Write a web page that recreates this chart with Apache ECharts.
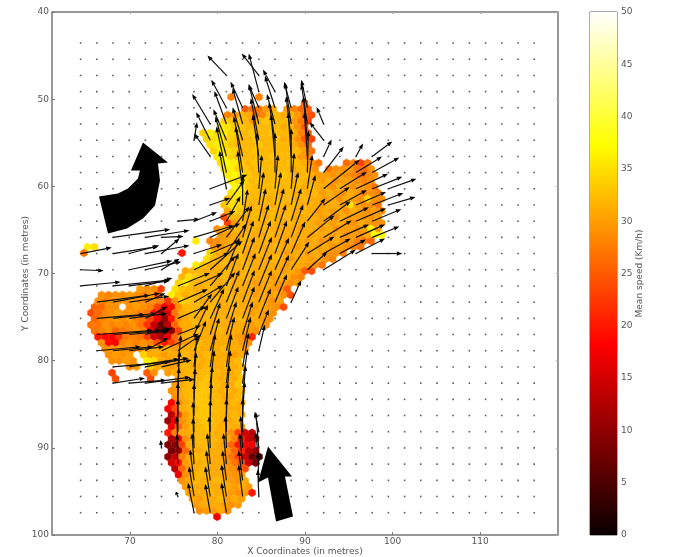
<!DOCTYPE html>
<html><head><meta charset="utf-8">
<style>html,body{margin:0;padding:0;background:#fff}#c{width:700px;height:557px;filter:blur(0.55px)}</style>
<script src="https://cdn.jsdelivr.net/npm/echarts@6/dist/echarts.min.js"></script></head>
<body><div id="c"></div>
<script>
// Axis tick labels
const xTicks = [70, 80, 90, 100, 110];
const yTicks = [40, 50, 60, 70, 80, 90, 100];
const barTicks = [0, 5, 10, 15, 20, 25, 30, 35, 40, 45, 50];

// Quiver sampling grid (metres)
const quiverX = [64.36,66.21,68.06,69.91,71.76,73.61,75.47,77.32,79.17,81.02,82.87,84.72,86.57,88.42,90.27,92.13,93.98,95.83,97.68,99.53,101.38,103.23,105.08,106.93,108.78,110.64,112.49,114.34,116.19];
const quiverY = [43.56,45.42,47.28,49.13,50.99,52.85,54.71,56.57,58.42,60.28,62.14,64.00,65.86,67.71,69.57,71.43,73.29,75.15,77.00,78.86,80.72,82.58,84.44,86.29,88.15,90.01,91.87,93.73,95.58,97.44];
const quiverScale = 0.1146; // metres per vector unit

// Mean speed hex cells: [row, first column, speeds (km/h), 0 = empty cell]
const hexTop = [
[0,21,[28]],[0,25,[28]],[1,31,[26]],
[2,23,[25,27,27,30,31,0,30,28,26,25]],
[3,20,[28,29,32,31,26,28,32,32,31,32,30,26,24]],
[4,20,[34,33,33,32,30,32,33,32,32,32,30,27,23]],
[5,19,[36,35,33,33,32,32,32,32,32,31,32,29,25]],
[6,17,[34,36,35,36,34,33,32,33,32,32,33,32,32,31,28,25]],
[7,17,[34,35,36,34,33,32,32,33,32,32,33,31,32,29,25,23]],
[8,18,[35,36,35,33,32,32,32,33,32,32,32,32,31,29,26]],
[9,18,[34,36,35,34,32,32,33,32,32,32,32,32,32,30,27]],
[10,19,[36,37,34,33,32,32,33,32,33,32,32,32,30,28]],
[11,19,[35,37,36,33,32,33,32,32,32,32,33,32,31,29,27]],
[12,20,[36,36,34,33,32,33,32,32,32,32,31,32,31,29]]
];
const hexWing = [
[11,37,[26,28,23,27]],[12,35,[27,29,29,30,27,26,29]],
[13,20,[36,37,35,33,32,32,32,32,33,32,31,32,31,30,30,29,30,29,28,27,28,29]],
[14,21,[36,35,34,32,33,32,32,32,32,31,32,31,31,30,31,29,30,30,29,28,29]],
[15,21,[37,36,33,32,32,32,33,32,32,32,31,32,31,31,29,31,30,29,30,29,27]],
[16,21,[35,36,34,32,32,32,32,31,32,31,32,31,32,30,31,30,29,31,30,28,29,28]],
[17,20,[33,35,34,32,32,32,31,32,32,32,31,32,31,31,30,31,29,31,30,29,34,29,29]],
[18,20,[33,35,34,32,31,32,32,31,32,31,32,31,31,31,30,31,31,30,35,30,29,29,27]],
[19,20,[31,34,33,32,32,31,32,32,31,32,31,32,31,30,31,30,31,29,31,30,29,30,29]],
[20,20,[24,32,32,31,32,32,31,32,31,32,31,31,31,31,30,31,29,31,30,30,29,29,30]],
[21,20,[23,30,32,31,32,31,32,31,31,32,31,31,31,30,31,30,31,30,29,31,30,29,29]],
[22,19,[29,31,31,32,31,32,31,32,31,31,31,31,30,31,31,30,31,29,30,30,29,30,36,30]],
[23,19,[30,30,31,31,32,31,31,32,31,31,31,31,31,30,31,31,30,31,29,30,29,31,37,37]],
[24,18,[28,29,30,31,31,32,31,31,32,31,31,30,31,31,30,31,29,30,31,29,30,28,27,26]],
[25,18,[29,29,31,31,32,31,31,31,31,32,31,31,30,31,31,30,31,29,30,29,28,27]],
[26,18,[34,31,31,31,32,31,31,32,31,31,31,30,31,31,30,31,30,29,29,28]],
[27,17,[35,32,31,32,31,32,31,31,31,31,32,31,30,31,31,30,31,29,28]],
[28,16,[36,33,31,31,32,31,31,32,31,31,31,31,31,30,31,31,30,29,27]]
];
const hexLobe = [
[29,14,[31,32,32,31,31,31,32,31,31,32,31,31,31,31,30,31,30,25,24]],
[30,14,[32,35,33,32,31,31,32,31,31,32,31,31,31,30,31,31,29,28]],
[31,13,[34,36,32,31,32,31,31,32,31,31,31,30,31,31,30,30,29,30]],
[32,8,[30,29,29,23]],[32,13,[35,33,32,31,31,32,31,32,31,31,31,31,30,31,30,29,25]],
[33,2,[29,28,29,29,30,29,28,30,25]],[33,12,[36,33,31,32,31,32,31,31,32,31,31,31,30,31,30,31,29,24]],
[34,2,[29,28,29,30,29,30,29,28,29,28,22,29,34,33,32,31,31,32,31,32,31,31,31,31,30,29,30]],
[35,1,[26,26,29,29,0,29,30,29,28,23,17,19,29,32,32,32,31,32,31,31,32,31,31,30,31,30,29,24]],
[36,1,[24,26,28,29,30,29,29,28,27,20,11,16,27,31,32,32,31,32,31,31,32,31,31,30,31,30,29]],
[37,1,[26,28,29,30,29,30,28,27,23,18,10,20,29,31,32,31,32,31,32,31,31,32,31,31,30,29]],
[38,1,[27,27,29,28,29,28,29,27,22,14,7,13,26,31,31,32,31,31,32,31,31,31,31,30,31,29]],
[39,1,[27,28,29,26,27,28,29,28,17,9,4,9,23,31,31,32,31,31,32,31,31,31,30,29]],
[40,2,[20,19,18,22,27,28,27,23,14,12,17,26,31,32,31,31,31,31,31,31,30,29,21]],
[41,2,[29,19,18,28,29,28,29,28,24,20,23,27,30,31,32,31,31,31,31,31,30,29]],
[42,3,[29,29,30,29,28,29,30,31,31,31,30,31,31,32,31,31,31,32,31,31,30]],
[43,3,[29,30,29,30,0,34,31,31,30,31,31,32,31,31,32,31,31,31,30,31]],
[44,4,[29,29,30,29,0,36,35,31,30,31,31,31,32,31,32,31,31,31,32]],
[45,6,[29,30,0,34,31,31,30,31,32,31,31,32,31,31,32,31,32]]
];
const hexStem = [
[46,4,[23]],[46,9,[25,29,0,30,31,31,32,31,32,32,32,31,31,32]],
[47,4,[24]],[47,9,[24]],[47,13,[31,31,32,32,33,32,31,32,31,33]],
[48,13,[30,31,32,32,33,32,32,31,31,33]],
[49,12,[29,30,32,32,33,33,32,31,32,31,32]],
[50,13,[29,31,32,33,33,32,32,31,31,32]],
[51,12,[18,28,31,32,33,33,32,32,31,32,31]],
[52,12,[18,24,31,32,32,33,33,32,32,31,31]],
[53,12,[13,23,30,32,33,33,32,32,31,32,31]],
[54,12,[11,17,29,31,32,33,33,32,31,31,32]],
[55,12,[17,26,30,32,32,33,32,31,32,31,31]],
[56,12,[20,28,31,31,32,32,32,31,31,29,23,15,13]],
[57,12,[12,18,29,31,32,32,32,31,31,28,20,14,12]],
[58,12,[9,10,23,31,32,32,32,31,30,26,20,18,17]],
[59,12,[8,11,26,31,31,32,31,31,29,26,21,13,11]],
[60,12,[10,14,28,31,32,32,31,31,30,27,23,15,7,4]],
[61,12,[15,19,30,31,31,32,31,31,29,27,24,14,8]],
[62,13,[13,26,30,31,32,31,31,30,29,28,24]],
[63,13,[17,29,31,32,32,31,31,30,29,30]],
[64,14,[29,31,32,31,31,32,31,30,29,31]],
[65,14,[30,31,31,32,31,31,31,30,31,30]],
[66,15,[30,31,31,32,31,31,30,29,30,20]],
[67,15,[31,30,31,31,32,30,31,30]],
[68,16,[30,31,31,31,30,29,30]],
[69,16,[29,30,30,31,29]],
[70,19,[17]]
];
const hexSpots = [
[24,16,[36]],[25,0,[36,35]],[26,0,[27]],[26,14,[20]]
];

// Flow vectors: [grid column, grid row, u, v]
const arrowsTop = [
[9,2,-19,-20],[11,2,-17,-22],[11,3,-10,-38],[12,3,-12,-22],
[9,4,-15,-28],[10,4,-12,-26],[11,4,-10,-23],[12,4,-10,-32],[13,4,-7,-26],[14,4,-6,-28],
[8,5,-18,-30],[9,5,-12,-33],[10,5,-10,-36],[11,5,-10,-40],[12,5,-8,-30],[13,5,-6,-41],[14,5,-6,-40],[15,5,-7,-17],
[7,6,3,-18],[8,6,-14,-28],[9,6,-13,-31],[10,6,-10,-33],[11,6,-8,-42],[12,6,-6,-38],[13,6,-5,-44],[14,6,-4,-44],[15,6,-14,-18],
[8,7,-16,-23],[9,7,-11,-40],[10,7,-9,-40],[11,7,-6,-42],[12,7,-4,-42],[13,7,-3,-44],[14,7,-3,-44],[15,7,8,-17],[17,7,7,-13],[18,7,20,-15],
[9,8,-10,-46],[10,8,-7,-46],[11,8,-2,-40],[12,8,0,-40],[13,8,0,-44],[14,8,1,-42],[15,8,20,-26],[17,8,26,-16],[18,8,27,-15],
[8,9,37,-14],[9,9,-7,-38],[10,9,-5,-38],[11,9,3,-34],[12,9,3,-34],[13,9,3,-36],[14,9,5,-34],[15,9,36,-29],[16,9,27,-17],[17,9,32,-15],[18,9,30,-12],[19,9,28,-10],
[8,10,20,-7],[9,10,18,-25],[10,10,0,-30],[11,10,5,-33],[12,10,6,-33],[13,10,7,-33],[14,10,8,-30],[15,10,26,-18],[16,10,27,-15],[17,10,30,-13],[18,10,31,-12],[19,10,27,-8]
];
const arrowsMiddle = [
[6,11,22,-2],[7,11,23,-9],[8,11,25,-10],[9,11,14,-25],[10,11,5,-32],[11,11,7,-33],[12,11,9,-33],[13,11,10,-33],[14,11,18,-23],[15,11,27,-20],[16,11,29,-14],[17,11,30,-13],[18,11,29,-12],
[2,12,57,-8],[4,12,44,-7],[5,12,22,-1],[7,12,40,-12],[8,12,30,-14],[9,12,23,-31],[10,12,9,-32],[11,12,10,-33],[12,12,11,-33],[13,12,12,-33],[14,12,27,-22],[15,12,28,-17],[16,12,29,-13],[17,12,29,-13],[18,12,27,-11],
[0,13,31,-6],[2,13,45,-7],[3,13,30,-8],[4,13,44,-8],[5,13,18,-15],[7,13,28,-9],[8,13,30,-13],[9,13,20,-30],[10,13,11,-33],[11,13,12,-33],[12,13,12,-33],[13,13,14,-32],[14,13,27,-17],[15,13,27,-15],[16,13,26,-14],[17,13,29,-15],[18,13,30,0],
[0,14,23,1],[3,14,43,-9],[4,14,36,-8],[5,14,18,-11],[7,14,35,-17],[8,14,32,-29],[9,14,13,-32],[10,14,12,-33],[11,14,13,-33],[12,14,14,-32],[13,14,18,-28],[14,14,20,-18],[15,14,32,-20],
[0,15,40,-4],[2,15,57,-6],[3,15,40,-5],[4,15,27,-8],[6,15,32,-13],[7,15,29,-13],[8,15,25,-30],[9,15,12,-33],[10,15,13,-33],[11,15,13,-32],[12,15,14,-31],
[1,16,53,-7],[2,16,47,-9],[3,16,40,-6],[4,16,20,-9],[6,16,30,-13],[7,16,29,-17],[8,16,25,-30],[9,16,13,-32],[10,16,12,-32],[11,16,13,-32],[12,16,12,-28],[13,16,10,-22]
];
const arrowsLower = [
[1,17,48,-4],[2,17,43,-5],[3,17,38,-5],[4,17,22,-12],[6,17,28,-12],[7,17,18,-25],[8,17,14,-30],[9,17,12,-32],[10,17,12,-32],[11,17,12,-30],
[1,18,56,-4],[2,18,48,-4],[3,18,40,-4],[4,18,26,-6],[6,18,23,-9],[7,18,14,-30],[8,18,10,-32],[9,18,10,-33],[10,18,10,-33],[11,18,10,-25],
[1,19,44,-4],[2,19,40,-4],[3,19,35,-4],[4,19,23,-13],[5,19,37,-17],[6,19,23,-16],[7,19,12,-30],[8,19,9,-33],[9,19,8,-34],[10,19,8,-34],[11,19,6,-26],
[2,20,57,-5],[3,20,50,-8],[4,20,43,-9],[5,20,30,-7],[6,20,3,-32],[7,20,3,-32],[8,20,5,-33],[9,20,5,-33],[10,20,6,-34],
[2,21,32,-5],[3,21,37,-3],[4,21,45,-6],[5,21,33,-4],[6,21,2,-32],[7,21,2,-31],[8,21,4,-33],[9,21,4,-33],[10,21,5,-34],
[6,22,1,-32],[7,22,1,-31],[8,22,2,-33],[9,22,3,-34],[10,22,3,-34],
[6,23,0,-33],[7,23,0,-32],[8,23,1,-33],[9,23,1,-33],[10,23,2,-34],
[6,24,0,-33],[7,24,-1,-30],[8,24,0,-32],[9,24,0,-33],[10,24,0,-33],[11,24,-4,-20],
[5,25,-1,-8],[6,25,-1,-32],[7,25,-1,-30],[8,25,-1,-32],[9,25,-1,-32],[10,25,-2,-32],[11,25,-3,-36],
[6,26,-1,-30],[7,26,-2,-31],[8,26,-3,-31],[9,26,-3,-31],[10,26,-3,-31],[11,26,-3,-32],
[7,27,-4,-31],[8,27,-4,-30],[9,27,-4,-30],[10,27,-4,-30],[11,27,-1,-28],
[6,28,-2,-5],[7,28,-5,-30],[8,28,-5,-30],[9,28,-5,-32],[10,28,-4,-32],[11,28,-1,-27],
[7,29,-6,-30],[8,29,-5,-29],[9,29,-5,-30]
];

// Big annotation arrows, outlines in metres
const curvedArrow = [[71.49,54.97],[74.34,57.27],[73.2,57.38],[73.43,59.33],[72.86,62.2],[71.49,63.69],[69.66,64.84],[67.49,65.41],[66.46,61.17],[68.63,60.82],[69.77,60.25],[70.91,59.1],[71.14,58.18],[70.11,58.18]];
const straightArrow = [[85.77,89.85],[84.63,93.98],[85.77,93.4],[86.69,98.45],[88.63,97.88],[87.71,93.29],[88.51,93.29]];

// matplotlib "hot" colour map
const hotStops = [[0,[10,0,0]],[0.365,[255,0,0]],[0.746,[255,255,0]],[1,[255,255,255]]];
function hot(t){
  for(let k=1;k<hotStops.length;k++){
    if(t<=hotStops[k][0]){
      const a=hotStops[k-1],b=hotStops[k],f=(t-a[0])/(b[0]-a[0]);
      return 'rgb('+a[1].map((c,n)=>Math.round(c+(b[1][n]-c)*f)).join(',')+')';
    }
  }
  return '#fff';
}

const hexX0=64.75, hexDX=0.8, hexY0=49.75, hexDY=0.688, hexR=0.46;
const hexData=[];
[...hexTop,...hexWing,...hexLobe,...hexStem,...hexSpots].forEach(([r,c,vals])=>{
  vals.forEach((v,n)=>{
    if(v>0) hexData.push([hexX0+(c+n+(r%2?0.5:0))*hexDX, hexY0+r*hexDY, v]);
  });
});
const dotData=[];
quiverY.forEach(y=>quiverX.forEach(x=>dotData.push([x,y])));
const arrowData=[...arrowsTop,...arrowsMiddle,...arrowsLower].map(([i,j,u,v])=>[quiverX[i],quiverY[j],quiverX[i]+u*quiverScale,quiverY[j]+v*quiverScale]);

const axisColor='#777', labelColor='#555', font='DejaVu Sans';
const chart=echarts.init(document.getElementById('c'),null,{renderer:'canvas'});

chart.setOption({
  animation:false,
  backgroundColor:'#fff',
  grid:[
    {left:52,top:12,width:506,height:523,show:true,borderColor:axisColor,borderWidth:1.5,backgroundColor:'#fff',outerBoundsMode:'none',containLabel:false},
    {left:590,top:12,width:27,height:523,show:true,borderColor:'#555',borderWidth:1,outerBoundsMode:'none',containLabel:false}
  ],
  xAxis:[
    {gridIndex:0,type:'value',min:61.09,max:118.91,position:'bottom',splitLine:{show:false},axisLine:{show:false},
     axisTick:{inside:true,length:3,customValues:xTicks,lineStyle:{color:'#777'}},
     axisLabel:{customValues:xTicks,color:labelColor,fontFamily:font,fontSize:9,margin:2,showMinLabel:true,showMaxLabel:true},
     name:'X Coordinates (in metres)',nameLocation:'middle',nameGap:12,nameMoveOverlap:false,nameTextStyle:{color:labelColor,fontFamily:font,fontSize:9}},
    {gridIndex:0,type:'value',min:61.09,max:118.91,position:'top',splitLine:{show:false},axisLine:{show:false},
     axisTick:{inside:true,length:2,customValues:xTicks,lineStyle:{color:'#aaa'}},axisLabel:{show:false}},
    {gridIndex:1,type:'category',data:['speed'],show:false}
  ],
  yAxis:[
    {gridIndex:0,type:'value',min:40,max:100,interval:10,inverse:true,position:'left',splitLine:{show:false},axisLine:{show:false},
     axisTick:{inside:true,length:3,lineStyle:{color:'#777'}},
     axisLabel:{color:labelColor,fontFamily:font,fontSize:9,margin:3,customValues:yTicks},
     name:'Y Coordinates (in metres)',nameLocation:'middle',nameGap:22,nameMoveOverlap:false,nameTextStyle:{color:labelColor,fontFamily:font,fontSize:9}},
    {gridIndex:0,type:'value',min:40,max:100,interval:10,inverse:true,position:'right',splitLine:{show:false},axisLine:{show:false},
     axisTick:{inside:true,length:2,lineStyle:{color:'#aaa'}},axisLabel:{show:false}},
    {gridIndex:1,type:'value',min:0,max:50,interval:5,position:'right',splitLine:{show:false},axisLine:{show:false},
     axisTick:{inside:true,length:3,lineStyle:{color:'rgba(90,60,0,0.5)'}},
     axisLabel:{color:labelColor,fontFamily:font,fontSize:9,margin:4,customValues:barTicks},
     name:'Mean speed (Km/h)',nameLocation:'middle',nameGap:18,nameMoveOverlap:false,nameRotate:90,nameTextStyle:{color:labelColor,fontFamily:font,fontSize:9}}
  ],
  series:[
    {type:'scatter',xAxisIndex:0,yAxisIndex:0,data:dotData,symbol:'rect',symbolSize:1.6,itemStyle:{color:'#333'},silent:true,z:1},
    {type:'custom',xAxisIndex:0,yAxisIndex:0,data:hexData,z:2,silent:true,
     encode:{x:0,y:1},
     renderItem:(p,api)=>{
       const x=api.value(0),y=api.value(1),c=hot(api.value(2)/50),w=hexDX/2,h=hexR;
       const pts=[[x,y-h],[x+w,y-h/2],[x+w,y+h/2],[x,y+h],[x-w,y+h/2],[x-w,y-h/2]].map(q=>api.coord(q));
       return {type:'polygon',shape:{points:pts},style:{fill:c,stroke:c,lineWidth:0.4}};
     }},
    {type:'custom',xAxisIndex:0,yAxisIndex:0,data:arrowData,z:3,silent:true,clip:false,
     encode:{x:0,y:1},
     renderItem:(p,api)=>{
       const a=api.coord([api.value(0),api.value(1)]),b=api.coord([api.value(2),api.value(3)]);
       const dx=b[0]-a[0],dy=b[1]-a[1],L=Math.hypot(dx,dy)||1,ux=dx/L,uy=dy/L,hl=Math.min(5.5,L*0.6),hw=2.1;
       const s=[b[0]-ux*hl,b[1]-uy*hl];
       return {type:'group',children:[
         {type:'line',shape:{x1:a[0],y1:a[1],x2:s[0],y2:s[1]},style:{stroke:'#111',lineWidth:1.2}},
         {type:'polygon',shape:{points:[b,[s[0]-uy*hw,s[1]+ux*hw],[s[0]+uy*hw,s[1]-ux*hw]]},style:{fill:'#000'}}
       ]};
     }},
    {type:'custom',xAxisIndex:0,yAxisIndex:0,data:[[0],[1]],z:4,silent:true,
     encode:{x:[],y:[]},
     renderItem:(p,api)=>{
       const outline=[curvedArrow,straightArrow][api.value(0)];
       return {type:'polygon',shape:{points:outline.map(q=>api.coord(q))},style:{fill:'#000'}};
     }},
    {type:'bar',xAxisIndex:2,yAxisIndex:2,data:[50],barWidth:'100%',silent:true,
     itemStyle:{color:new echarts.graphic.LinearGradient(0,0,0,1,[
       {offset:0,color:'rgb(255,255,255)'},{offset:0.254,color:'rgb(255,255,0)'},{offset:0.635,color:'rgb(255,0,0)'},{offset:1,color:'rgb(10,0,0)'}
     ])}}
  ]
});
</script></body></html>
